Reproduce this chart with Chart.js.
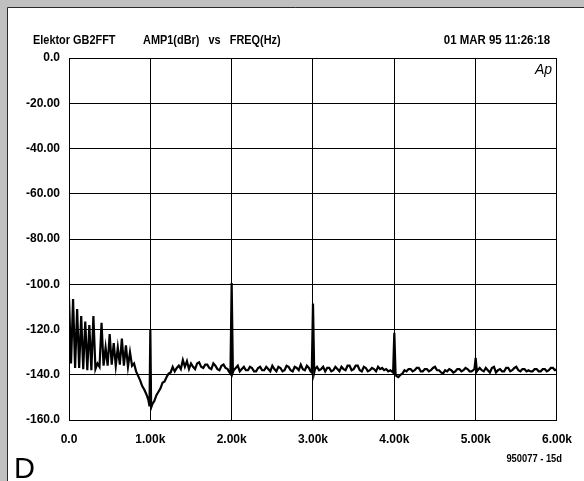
<!DOCTYPE html>
<html>
<head>
<meta charset="utf-8">
<script src="https://cdn.jsdelivr.net/npm/chart.js@4.4.1/dist/chart.umd.min.js"></script>
<style>
  html, body { margin: 0; padding: 0; background: #c0c0c0; }
  canvas { display: block; }
</style>
</head>
<body>
<canvas id="fftChart" width="584" height="481"></canvas>
<script>
const FONT_FAMILY = "'Liberation Sans', Arial, sans-serif";

// frequency (Hz) and amplitude (dBr)
const freqHz = [
  0, 25, 50, 75, 100, 125, 150, 175, 200, 225, 250, 275, 300, 325, 350, 375,
  400, 425, 450, 475, 500, 525, 550, 575, 600, 625, 650, 675, 700, 725, 750, 775,
  800, 825, 850, 875, 900, 925, 950, 975, 990, 1000, 1010, 1025, 1050, 1075, 1100,
  1125, 1150, 1175, 1200, 1225, 1250, 1275, 1300, 1325, 1350, 1375, 1400,
  1425, 1450, 1475, 1500, 1525, 1550, 1575, 1600, 1625, 1650, 1675, 1700, 1725, 1750,
  1775, 1800, 1825, 1850, 1875, 1900, 1925, 1950, 1965, 1985, 2000, 2015, 2025,
  2050, 2075, 2100, 2125, 2150, 2175, 2200, 2225, 2250, 2275, 2300, 2325, 2350, 2375,
  2400, 2425, 2450, 2475, 2500, 2525, 2550, 2575, 2600, 2625, 2650, 2675, 2700, 2725,
  2750, 2775, 2800, 2825, 2850, 2875, 2900, 2925, 2950, 2970, 2985, 3000, 3015, 3025,
  3050, 3075, 3100, 3125, 3150, 3175, 3200, 3225, 3250, 3275, 3300, 3325, 3350, 3375,
  3400, 3425, 3450, 3475, 3500, 3525, 3550, 3575, 3600, 3625, 3650, 3675, 3700, 3725,
  3750, 3775, 3800, 3825, 3850, 3875, 3900, 3925, 3950, 3970, 3985, 4000, 4015, 4025,
  4050, 4075, 4100, 4125, 4150, 4175, 4200, 4225, 4250, 4275, 4300, 4325, 4350, 4375,
  4400, 4425, 4450, 4475, 4500, 4525, 4550, 4575, 4600, 4625, 4650, 4675, 4700, 4725,
  4750, 4775, 4800, 4825, 4850, 4875, 4900, 4925, 4950, 4970, 4985, 5000, 5015, 5025,
  5050, 5075, 5100, 5125, 5150, 5175, 5200, 5225, 5250, 5275, 5300, 5325, 5350, 5375,
  5400, 5425, 5450, 5475, 5500, 5525, 5550, 5575, 5600, 5625, 5650, 5675, 5700, 5725,
  5750, 5775, 5800, 5825, 5850, 5875, 5900, 5925, 5950, 5975, 6000
];

const ampDbr = [
  -106, -135, -106.5, -137, -111, -137, -114, -137.5, -116.5, -138, -118, -138, -114, -137.5, -135, -136.5,
  -117, -136, -128, -136, -122, -135.5, -126, -136, -128, -135.5, -124, -136, -127, -136.5, -130, -136,
  -135, -138.5, -140.5, -142.5, -145, -146.5, -148.5, -151, -154, -120, -154.5, -153, -151.5, -149, -147.5,
  -146, -143.5, -143, -141, -139.5, -139, -136.5, -138.5, -137, -136, -137.5, -133.5,
  -136.5, -134, -137.5, -135, -136.5, -137.5, -135, -134.5, -136.5, -137, -135.5, -135.5, -137, -137.5,
  -135, -136, -137.5, -138, -136, -135.5, -137, -137.5, -138.5, -139.5, -99.5, -139, -138,
  -137, -136, -138.5, -137.5, -136.5, -138, -138, -136.5, -137, -138.5, -138.5, -137, -136.5, -138,
  -138, -136.5, -137.5, -138.5, -136, -137.5, -138.5, -136.5, -137, -138.5, -138, -136, -136.5, -138,
  -138.5, -136.5, -137, -138, -135.5, -137.5, -138, -136, -137, -138.5, -139, -108.5, -139, -137.5,
  -136.5, -138, -137.5, -136.5, -138.5, -137, -137, -138.5, -138, -136.5, -137.5, -138.5, -136.5, -137.5,
  -138, -136, -136, -138, -137.5, -136, -136, -138, -138.5, -136.5, -137, -138.5, -138, -137,
  -137.5, -138.5, -136.5, -137.5, -137, -138, -137.5, -138.5, -138, -138.5, -139, -121.5, -139.5, -140.5,
  -141, -140, -139.5, -138, -138.5, -137.5, -137.5, -138.5, -138, -137, -137, -138.5, -138.5, -137.5,
  -137.5, -138.5, -138, -137, -136.5, -138, -138, -139, -139.5, -138, -138.5, -137.5, -138, -139,
  -138.5, -137.5, -137.5, -138.5, -138, -137, -137.5, -138.5, -138.5, -138, -137.5, -132.5, -138.5, -138,
  -137, -138, -138.5, -137, -138, -139, -137, -136.5, -139, -138, -137.5, -138.5, -138.5, -137,
  -137, -138.5, -138, -137, -136.5, -138, -138.5, -137.5, -137.5, -138.5, -138, -138.5, -138.5, -137.5,
  -137.5, -138.5, -138.5, -137.5, -137.5, -138.5, -138, -137, -137, -138, -137.5
];

const yTicks = ['0.0', '-20.00', '-40.00', '-60.00', '-80.00', '-100.0', '-120.0', '-140.0', '-160.0'];
const xTicks = ['0.0', '1.00k', '2.00k', '3.00k', '4.00k', '5.00k', '6.00k'];

// condensed text, the analyser print uses a narrow face
function narrowText(ctx, text, x, y, align, squeeze) {
  ctx.save();
  ctx.translate(x, y);
  ctx.scale(squeeze, 1);
  ctx.textAlign = align;
  ctx.fillText(text, 0, 0);
  ctx.restore();
}

const frameAndText = {
  id: 'frameAndText',
  beforeDraw(chart) {
    const { ctx, width, height } = chart;
    ctx.save();
    ctx.fillStyle = '#c0c0c0';
    ctx.fillRect(0, 0, width, height);
    ctx.fillStyle = '#ffffff';
    ctx.fillRect(8, 8, width - 8, height - 8);
    ctx.strokeStyle = '#2a2a2a';
    ctx.lineWidth = 1;
    ctx.beginPath();
    ctx.moveTo(7.5, height);
    ctx.lineTo(7.5, 7.5);
    ctx.lineTo(width, 7.5);
    ctx.stroke();
    ctx.restore();
  },
  afterDraw(chart) {
    const ctx = chart.ctx;
    ctx.save();
    ctx.fillStyle = '#000';
    ctx.textBaseline = 'middle';
    ctx.font = 'bold 13px ' + FONT_FAMILY;
    narrowText(ctx, 'Elektor GB2FFT', 33, 40, 'left', 0.84);
    narrowText(ctx, 'AMP1(dBr)   vs   FREQ(Hz)', 143, 40, 'left', 0.84);
    narrowText(ctx, '01 MAR 95 11:26:18', 550, 40, 'right', 0.88);

    ctx.font = 'bold 11px ' + FONT_FAMILY;
    narrowText(ctx, '950077 - 15d', 562, 459, 'right', 0.85);

    ctx.font = 'italic 14px ' + FONT_FAMILY;
    ctx.textBaseline = 'alphabetic';
    narrowText(ctx, 'Ap', 552, 74, 'right', 1);

    ctx.font = '29px ' + FONT_FAMILY;
    narrowText(ctx, 'D', 14, 478, 'left', 1);
    ctx.restore();
  }
};

const ctx = document.getElementById('fftChart').getContext('2d');
new Chart(ctx, {
  type: 'line',
  data: {
    datasets: [{
      label: 'AMP1',
      data: freqHz.map((f, i) => ({ x: f, y: ampDbr[i] })),
      borderColor: '#000',
      borderWidth: 2.2,
      pointRadius: 0,
      tension: 0,
      fill: false
    }]
  },
  options: {
    responsive: false,
    animation: false,
    layout: { padding: { top: 58, right: 25, left: 0, bottom: 0 } },
    plugins: {
      legend: { display: false },
      tooltip: { enabled: false }
    },
    scales: {
      x: {
        type: 'linear',
        min: 0,
        max: 6000,
        afterFit: s => { s.height = 61; },
        afterBuildTicks: s => { s.ticks = xTicks.map((_, i) => ({ value: i * 1000 })); },
        grid: { color: '#000', lineWidth: 1, drawTicks: false },
        border: { color: '#000' },
        ticks: {
          padding: 12,
          maxRotation: 0,
          color: '#000',
          font: { family: FONT_FAMILY, size: 12, weight: 'bold' },
          callback: (v, i) => xTicks[i]
        }
      },
      y: {
        min: -160,
        max: 0,
        afterFit: s => { s.width = 69; },
        afterBuildTicks: s => { s.ticks = yTicks.map((_, i) => ({ value: -160 + i * 20 })); },
        grid: { color: '#000', lineWidth: 1, drawTicks: false },
        border: { color: '#000' },
        ticks: {
          padding: 9,
          color: '#000',
          font: { family: FONT_FAMILY, size: 12, weight: 'bold' },
          callback: (v, i) => yTicks[yTicks.length - 1 - i]
        }
      }
    }
  },
  plugins: [frameAndText]
});
</script>
</body>
</html>
